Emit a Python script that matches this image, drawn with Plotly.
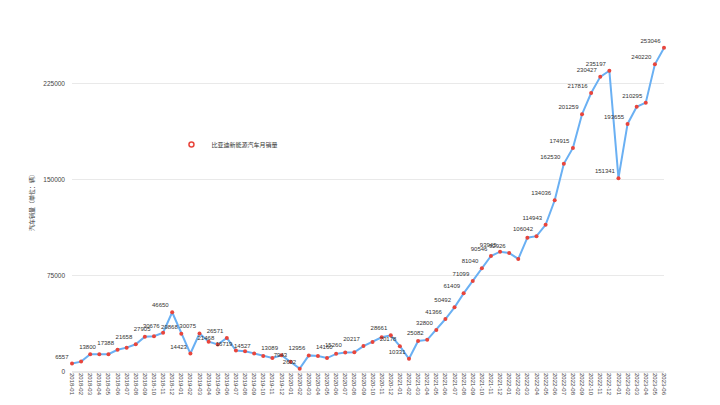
import plotly.graph_objects as go

# monthly sales, 2018-01 .. 2023-06
months = [f"{y}-{m:02d}" for y in range(2018, 2024) for m in range(1, 13)][:66]
sales_2018 = [6557, 8100, 13818, 13800, 13850, 17388, 19000, 21658, 27600, 27905, 30676, 46650]
sales_2019 = [29868, 14423, 30075, 23700, 21468, 26571, 16719, 16200, 14527, 12500, 10900, 13089]
sales_2020 = [7943, 2602, 12956, 12500, 10900, 14160, 15260, 15400, 20217, 23400, 27100, 28661]
sales_2021 = [20178, 10331, 24218, 25082, 32800, 41366, 50492, 61409, 71099, 81040, 90546, 93945]
sales_2022 = [92926, 88283, 104878, 106042, 114943, 134036, 162530, 174915, 201259, 217816, 230427, 235197]
sales_2023 = [151341, 193655, 207080, 210295, 240220, 253046]
sales = sales_2018 + sales_2019 + sales_2020 + sales_2021 + sales_2022 + sales_2023

# which points carry a value label (others hidden like in the original)
labelled = [0, 3, 5, 7, 9, 10, 11, 12, 13, 14, 16, 17, 18, 20, 23, 24, 25, 26, 29, 30,
            32, 35, 36, 37, 39, 40, 41, 42, 43, 44, 45, 46, 47, 48, 51, 52, 53, 54, 55,
            56, 57, 58, 59, 60, 61, 63, 64, 65]
labels = [str(v) if i in labelled else "" for i, v in enumerate(sales)]

series_name = "比亚迪新能源汽车月销量"
font_family = "Liberation Sans, Noto Sans CJK SC, sans-serif"

fig = go.Figure()

fig.add_trace(
    go.Scatter(
        x=months,
        y=sales,
        mode="lines+markers+text",
        text=labels,
        textposition="top left",
        textfont=dict(size=6, color="#333333"),
        line=dict(color="#6ab0f3", width=2),
        marker=dict(size=4, color="#e8453c"),
        cliponaxis=False,
        showlegend=False,
        name=series_name,
    )
)

# legend entry shows only the marker
fig.add_trace(
    go.Scatter(
        x=[None],
        y=[None],
        mode="markers",
        marker=dict(size=5, color="#ffffff", line=dict(color="#e8453c", width=1.5)),
        name=series_name,
    )
)

fig.update_xaxes(
    type="category",
    range=[0, 65],
    tickmode="array",
    tickvals=months,
    ticktext=months,
    tickangle=90,
    tickfont=dict(size=6, color="#444444"),
    showgrid=False,
    showline=False,
    zeroline=False,
    automargin=False,
)

fig.update_yaxes(
    range=[0, 267000],
    tickvals=[0, 75000, 150000, 225000],
    ticktext=["0", "75000", "150000", "225000"],
    tickfont=dict(size=6.5, color="#444444"),
    ticklabelstandoff=6,
    gridcolor="#e9e9e9",
    gridwidth=1,
    zeroline=True,
    zerolinecolor="#e9e9e9",
    showline=False,
    ticks="",
    ticklen=0,
    automargin=False,
    title=dict(text="汽车销量（单位：辆）", font=dict(size=6, color="#333333"), standoff=8),
)

# page body adds an 8px offset, margins compensate for it
fig.update_layout(
    width=720,
    height=405,
    plot_bgcolor="white",
    paper_bgcolor="white",
    font=dict(family=font_family),
    margin=dict(l=64, r=64, t=22, b=41),
    legend=dict(
        x=0.168,
        y=0.665,
        xanchor="left",
        yanchor="middle",
        itemwidth=30,
        font=dict(size=6, color="#333333"),
        bgcolor="rgba(0,0,0,0)",
    ),
)

fig.write_html("out.html")
